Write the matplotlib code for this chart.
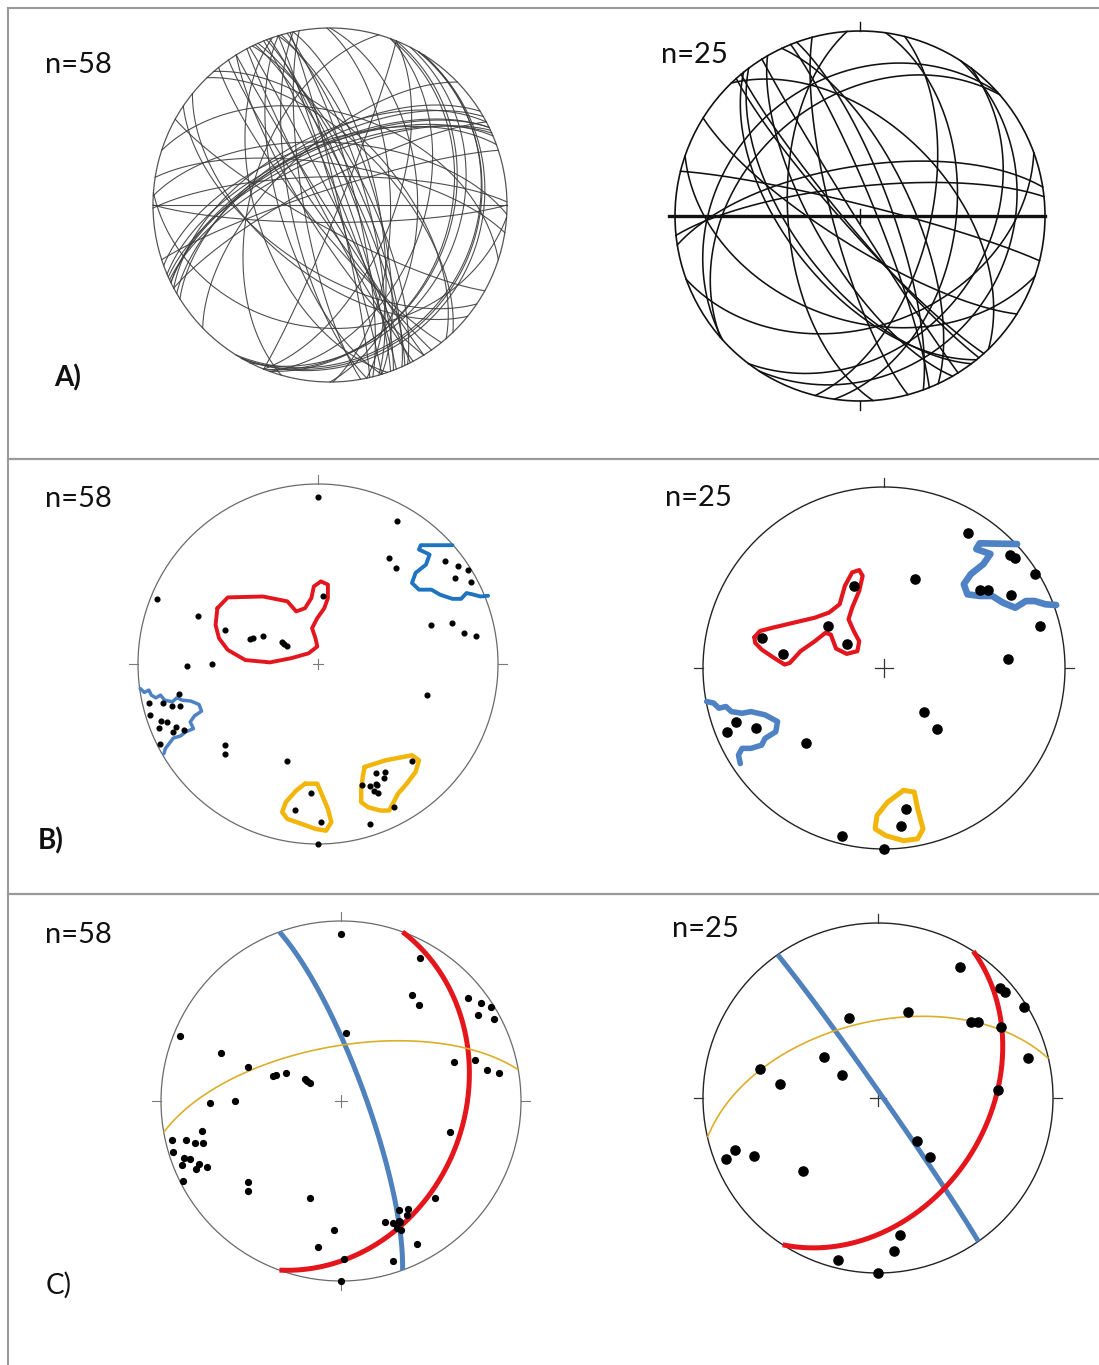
import numpy as np
import matplotlib
matplotlib.use("Agg")
import matplotlib.pyplot as plt
from matplotlib.patches import Circle

plt.rcParams['font.family'] = ['Lato', 'DejaVu Sans']

W, H = 1099, 1365

# ---------------- pole data: trend / plunge (degrees) ----------------
set58_trend = [0, 29, 34, 39, 51, 58, 58, 62, 71, 73, 78, 80,
               292, 292, 290, 290, 297, 302, 300, 4, 269, 270, 106,
               258, 257, 254, 253, 253, 249, 248, 245, 244, 243,
               229, 226, 198, 152, 148, 136, 154, 157, 154, 155, 152,
               183, 189, 179, 162, 180,
               250, 256, 150, 156, 292, 300, 55, 246, 160]
set58_plunge = [8, 10, 30, 32, 10, 2, 11, 4, 34, 23, 18, 12,
                4, 29, 44, 57, 62, 71, 74, 59, 28, 41, 37,
                22, 4, 17, 21, 3, 11, 5, 12, 18, 2,
                32, 29, 43, 32, 30, 26, 27, 27, 26, 22, 11,
                29, 19, 13, 7, 0,
                8, 12, 28, 24, 58, 72, 6, 15, 29]

set25_trend = [32, 48, 58, 51, 53, 60, 75, 86, 19, 340, 307, 303, 284,
               278, 138, 139, 226, 250, 248, 245, 171, 174, 194, 180, 50]
set25_plunge = [13, 7, 2, 32, 29, 20, 12, 32, 47, 50, 58, 70, 31,
                43, 63, 53, 40, 14, 7, 23, 22, 13, 5, 0, 6]

# ---------------- mean planes: strike (RHR) / dip ----------------
plane_names = ['blue', 'red', 'yellow']
mean58_strike = [340, 20, 260]
mean58_dip = [79, 32, 65]
mean25_strike = [325, 33, 257]
mean25_dip = [88, 38, 54]

# ---------------- density outlines (net coords, unit primitive) ----------------
outline58_red = [(-0.559, 0.310), (-0.501, 0.370), (-0.306, 0.375), (-0.170, 0.348),
                 (-0.121, 0.292), (-0.072, 0.310), (-0.037, 0.366), (-0.023, 0.431),
                 (0.016, 0.459), (0.055, 0.441), (0.055, 0.366), (0.035, 0.310),
                 (-0.004, 0.255), (-0.033, 0.199), (-0.014, 0.143), (-0.004, 0.097),
                 (-0.053, 0.059), (-0.150, 0.032), (-0.267, 0.009), (-0.404, 0.022),
                 (-0.501, 0.078), (-0.550, 0.143), (-0.569, 0.217), (-0.559, 0.310)]
outline58_blue_ne = [(0.747, 0.660), (0.571, 0.660), (0.561, 0.636), (0.620, 0.608),
                     (0.600, 0.552), (0.542, 0.506), (0.522, 0.450), (0.561, 0.413),
                     (0.630, 0.413), (0.678, 0.385), (0.747, 0.362), (0.795, 0.362),
                     (0.825, 0.394), (0.854, 0.388), (0.903, 0.375), (0.945, 0.379)]
outline58_blue_w = [(-0.988, -0.136), (-0.965, -0.158), (-0.940, -0.145), (-0.926, -0.173),
                    (-0.901, -0.188), (-0.875, -0.173), (-0.852, -0.201), (-0.809, -0.210),
                    (-0.784, -0.188), (-0.754, -0.201), (-0.706, -0.206), (-0.661, -0.225),
                    (-0.647, -0.262), (-0.686, -0.288), (-0.710, -0.322), (-0.692, -0.359),
                    (-0.735, -0.377), (-0.764, -0.400), (-0.803, -0.411), (-0.823, -0.437),
                    (-0.848, -0.470), (-0.856, -0.498)]
outline58_yellow_a = [(-0.072, -0.665), (-0.004, -0.665), (0.016, -0.712), (0.055, -0.805),
                      (0.074, -0.879), (0.045, -0.926), (-0.014, -0.916), (-0.092, -0.888),
                      (-0.170, -0.861), (-0.199, -0.823), (-0.179, -0.768), (-0.121, -0.703),
                      (-0.072, -0.665)]
outline58_yellow_b = [(0.259, -0.572), (0.376, -0.535), (0.522, -0.507), (0.561, -0.535),
                      (0.542, -0.600), (0.493, -0.665), (0.444, -0.721), (0.415, -0.777),
                      (0.396, -0.814), (0.347, -0.814), (0.279, -0.796), (0.240, -0.768),
                      (0.240, -0.693), (0.250, -0.619), (0.259, -0.572)]

outline25_red = [(-0.716, 0.170), (-0.686, 0.204), (-0.618, 0.222), (-0.500, 0.250),
                 (-0.382, 0.278), (-0.304, 0.306), (-0.245, 0.352), (-0.216, 0.454),
                 (-0.176, 0.528), (-0.137, 0.541), (-0.118, 0.509), (-0.137, 0.426),
                 (-0.176, 0.333), (-0.196, 0.269), (-0.167, 0.204), (-0.137, 0.148),
                 (-0.147, 0.093), (-0.206, 0.078), (-0.265, 0.107), (-0.294, 0.185),
                 (-0.324, 0.194), (-0.382, 0.148), (-0.461, 0.093), (-0.520, 0.028),
                 (-0.549, 0.019), (-0.608, 0.056), (-0.676, 0.102), (-0.712, 0.139),
                 (-0.716, 0.170)]
outline25_blue_ne = [(0.735, 0.685), (0.529, 0.689), (0.510, 0.657), (0.588, 0.630),
                     (0.549, 0.574), (0.480, 0.519), (0.441, 0.463), (0.461, 0.407),
                     (0.529, 0.398), (0.598, 0.398), (0.657, 0.361), (0.725, 0.333),
                     (0.784, 0.370), (0.833, 0.370), (0.892, 0.352), (0.951, 0.348)]
outline25_blue_w = [(-0.980, -0.185), (-0.941, -0.194), (-0.912, -0.222), (-0.873, -0.213),
                    (-0.843, -0.241), (-0.784, -0.250), (-0.735, -0.241), (-0.657, -0.259),
                    (-0.588, -0.296), (-0.598, -0.352), (-0.657, -0.389), (-0.676, -0.426),
                    (-0.735, -0.444), (-0.784, -0.444), (-0.804, -0.481), (-0.794, -0.528)]
outline25_yellow = [(0.108, -0.676), (0.167, -0.685), (0.186, -0.778), (0.216, -0.889),
                    (0.186, -0.944), (0.108, -0.954), (0.010, -0.926), (-0.049, -0.889),
                    (-0.039, -0.815), (0.020, -0.741), (0.108, -0.676)]

RED = '#e3161d'
BLUE_DARK = '#1e74bf'
BLUE = '#4e82c4'
YELLOW = '#f2b50a'
PLANE_COLORS = {'blue': '#4f81bd', 'red': '#e4161c', 'yellow': '#dcae2a'}


# ---------------- projection helpers (lower hemisphere, equal area) ----------------
def project(trend, plunge):
    t = np.radians(np.asarray(trend, float))
    p = np.radians(np.asarray(plunge, float))
    r = np.sqrt(2.0) * np.sin((np.pi / 2 - p) / 2)
    return r * np.sin(t), r * np.cos(t)


def great_circle(strike, dip, n=241):
    s = np.radians(strike)
    d = np.radians(dip)
    dd = s + np.pi / 2
    a = np.linspace(0, np.pi, n)
    sv = np.array([np.sin(s), np.cos(s), 0.0])
    dv = np.array([np.sin(dd) * np.cos(d), np.cos(dd) * np.cos(d), np.sin(d)])
    v = np.outer(np.cos(a), sv) + np.outer(np.sin(a), dv)
    plunge = np.degrees(np.arcsin(np.clip(v[:, 2], -1, 1)))
    trend = np.degrees(np.arctan2(v[:, 0], v[:, 1]))
    return project(trend, plunge)


def plane_from_pole(trend, plunge):
    dipdir = (trend + 180.0) % 360.0
    return (dipdir - 90.0) % 360.0, 90.0 - plunge


fig = plt.figure(figsize=(W / 100, H / 100), dpi=100)
fig.patch.set_facecolor('white')

# frame and row separators
frame = fig.add_axes([0, 0, 1, 1])
frame.set_xlim(0, W)
frame.set_ylim(H, 0)
frame.axis('off')
frame.plot([8, W + 5], [8, 8], color='#9a9a9a', lw=1.5)
frame.plot([8, 8], [8, H + 5], color='#9a9a9a', lw=1.5)
frame.plot([8, W + 5], [459, 459], color='#9a9a9a', lw=1.6)
frame.plot([8, W + 5], [894, 894], color='#9a9a9a', lw=1.6)


def make_net(cx, cy, R, pad=1.12):
    half = R * pad
    ax = fig.add_axes([(cx - half) / W, (H - cy - half) / H, 2 * half / W, 2 * half / H])
    ax.set_xlim(-pad, pad)
    ax.set_ylim(-pad, pad)
    ax.set_aspect('equal')
    ax.axis('off')
    return ax


def primitive(ax, color, lw):
    ax.add_patch(Circle((0, 0), 1.0, fill=False, ec=color, lw=lw, zorder=2))


def net_marks(ax, color, lw, sides='NEWS', length=0.05, cross=0.04):
    segs = {'N': ([0, 0], [1, 1 + length]), 'S': ([0, 0], [-1, -1 - length]),
            'E': ([1, 1 + length], [0, 0]), 'W': ([-1, -1 - length], [0, 0])}
    for s in sides:
        xs, ys = segs[s]
        ax.plot(xs, ys, color=color, lw=lw, clip_on=False)
    if cross:
        ax.plot([-cross, cross], [0, 0], color=color, lw=lw)
        ax.plot([0, 0], [-cross, cross], color=color, lw=lw)


def draw_outline(ax, pts, color, lw):
    xs, ys = zip(*pts)
    ax.plot(xs, ys, color=color, lw=lw, solid_joinstyle='round',
            solid_capstyle='round', zorder=3)


def label(x, y, text, size=21, weight='normal'):
    fig.text(x / W, 1 - y / H, text, fontsize=size, fontweight=weight,
             ha='left', va='baseline', color='#111111')


# ================= Row A: planes =================
axA1 = make_net(330, 205, 177)
primitive(axA1, '#555555', 0.9)
for t, p in zip(set58_trend, set58_plunge):
    st, dp = plane_from_pole(t, p)
    x, y = great_circle(st, dp)
    axA1.plot(x, y, color='#3c3c3c', lw=0.8, alpha=0.9)

axA2 = make_net(860, 216, 185)
primitive(axA2, '#111111', 1.2)
for t, p in zip(set25_trend, set25_plunge):
    st, dp = plane_from_pole(t, p)
    x, y = great_circle(st, dp)
    axA2.plot(x, y, color='#111111', lw=1.15)
axA2.plot([-1.03, 1.0], [0, 0], color='#111111', lw=2.4)
net_marks(axA2, '#111111', 1.0, sides='NS', cross=0)
axA2.plot([0, 0], [-0.04, 0.04], color='#111111', lw=1.0)

# ================= Row B: poles and density outlines =================
axB1 = make_net(318, 664, 180)
primitive(axB1, '#6a6a6a', 0.9)
net_marks(axB1, '#7a7a7a', 0.8, sides='NEW', cross=0.03)
draw_outline(axB1, outline58_red, RED, 2.8)
draw_outline(axB1, outline58_blue_ne, BLUE_DARK, 2.8)
draw_outline(axB1, outline58_blue_w, BLUE, 2.5)
draw_outline(axB1, outline58_yellow_a, YELLOW, 3.2)
draw_outline(axB1, outline58_yellow_b, YELLOW, 3.2)
px, py = project(set58_trend, set58_plunge)
axB1.plot(px, py, 'o', color='black', ms=3.4, zorder=4, clip_on=False)

axB2 = make_net(884, 668, 181)
primitive(axB2, '#222222', 1.0)
net_marks(axB2, '#333333', 0.9, sides='NEW', cross=0.05)
draw_outline(axB2, outline25_red, RED, 3.0)
draw_outline(axB2, outline25_blue_ne, BLUE, 4.8)
draw_outline(axB2, outline25_blue_w, BLUE, 4.0)
draw_outline(axB2, outline25_yellow, YELLOW, 3.6)
px, py = project(set25_trend, set25_plunge)
axB2.plot(px, py, 'o', color='black', ms=6.6, zorder=4, clip_on=False)

# ================= Row C: poles and mean planes =================
axC1 = make_net(341, 1101, 180)
primitive(axC1, '#6a6a6a', 0.9)
net_marks(axC1, '#7a7a7a', 0.8, sides='NEWS', cross=0.035)
px, py = project(set58_trend, set58_plunge)
axC1.plot(px, py, 'o', color='black', ms=4.2, zorder=4, clip_on=False)
for name, st, dp in zip(plane_names, mean58_strike, mean58_dip):
    x, y = great_circle(st, dp)
    axC1.plot(x, y, color=PLANE_COLORS[name], lw=1.2 if name == 'yellow' else 3.6,
              solid_capstyle='butt', zorder=3)

axC2 = make_net(878, 1098, 175)
primitive(axC2, '#222222', 1.0)
net_marks(axC2, '#333333', 0.9, sides='NEW', cross=0.045)
px, py = project(set25_trend, set25_plunge)
axC2.plot(px, py, 'o', color='black', ms=6.6, zorder=4, clip_on=False)
for name, st, dp in zip(plane_names, mean25_strike, mean25_dip):
    x, y = great_circle(st, dp)
    axC2.plot(x, y, color=PLANE_COLORS[name], lw=1.2 if name == 'yellow' else 3.6,
              solid_capstyle='butt', zorder=3)

# ================= labels =================
label(45, 73, 'n=58')
label(661, 63, 'n=25')
label(45, 507, 'n=58')
label(665, 506, 'n=25')
label(45, 943, 'n=58')
label(672, 937, 'n=25')
label(54, 386, 'A)', size=20, weight='bold')
label(38, 849, 'B)', size=20, weight='bold')
label(46, 1294, 'C)', size=20)

fig.savefig('out.png', dpi=100, facecolor='white')
